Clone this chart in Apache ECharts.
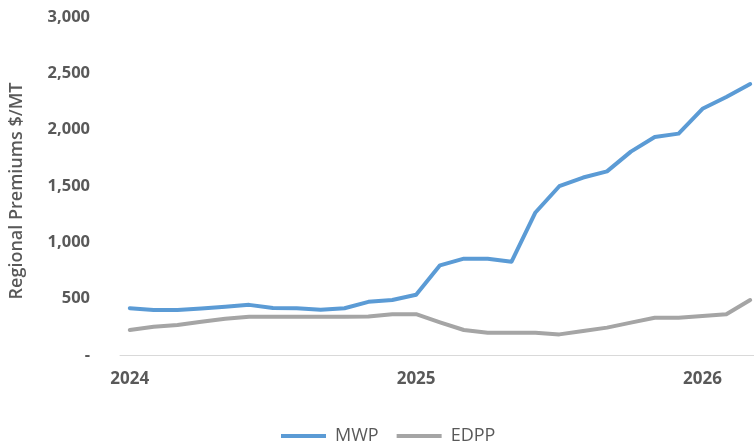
<!DOCTYPE html>
<html>
<head>
<meta charset="utf-8">
<script src="https://cdn.jsdelivr.net/npm/echarts@6/dist/echarts.min.js"></script>
<style>
  html, body { margin: 0; padding: 0; background: #ffffff; }
  #chart { width: 754px; height: 444px; }
</style>
</head>
<body>
<div id="chart"></div>
<script>
// Monthly regional aluminium premiums, Jan 2024 – Mar 2026 ($/MT)
const months = [
  '2024-01','2024-02','2024-03','2024-04','2024-05','2024-06','2024-07','2024-08','2024-09',
  '2024-10','2024-11','2024-12','2025-01','2025-02','2025-03','2025-04','2025-05','2025-06',
  '2025-07','2025-08','2025-09','2025-10','2025-11','2025-12','2026-01','2026-02','2026-03'
];
const mwp = [
  415, 400, 400, 412, 428, 445, 418, 415, 402,
  415, 472, 488, 535, 796, 855, 855, 828, 1265,
  1498, 1575, 1630, 1805, 1935, 1965, 2185, 2290, 2405
];
const edpp = [
  222, 250, 266, 296, 322, 340, 340, 340, 340,
  340, 342, 362, 362, 290, 222, 198, 198, 198,
  183, 213, 243, 287, 331, 331, 346, 361, 488
];
const yearTickIndex = [0, 12, 24];
const yearLabels = ['2024', '2025', '2026'];

const textColor = '#595959';
const fontFamily = '"Open Sans", "Liberation Sans", sans-serif';

const toPairs = arr => arr.map((v, i) => [i, v]);

const chart = echarts.init(document.getElementById('chart'), null, { renderer: 'canvas' });
chart.setOption({
  animation: false,
  backgroundColor: '#ffffff',
  grid: { left: 111, right: 0, top: 17, bottom: 89, containLabel: false },
  legend: {
    bottom: -6,
    left: 276,
    itemWidth: 45,
    itemHeight: 4,
    itemGap: 18,
    icon: 'rect',
    textStyle: { color: textColor, fontSize: 18, fontFamily: fontFamily, padding: [0, 0, 0, 4] },
    data: ['MWP', 'EDPP']
  },
  xAxis: {
    type: 'value',
    min: -0.41,
    max: 26.16,
    splitLine: { show: false },
    axisLine: { show: true, lineStyle: { color: '#d9d9d9', width: 1 } },
    axisTick: { show: false },
    axisLabel: {
      customValues: yearTickIndex,
      formatter: v => yearLabels[yearTickIndex.indexOf(Math.round(v))] || '',
      color: textColor,
      fontSize: 17,
      fontWeight: 'bold',
      fontFamily: fontFamily,
      margin: 16
    }
  },
  yAxis: {
    type: 'value',
    min: 0,
    max: 3000,
    interval: 500,
    name: 'Regional Premiums $/MT',
    nameLocation: 'middle',
    nameGap: 94,
    nameRotate: 90,
    nameTextStyle: {
      color: textColor, fontSize: 18, fontFamily: fontFamily, fontWeight: 600,
      padding: [0, 10, 0, 0]
    },
    axisLine: { show: false },
    axisTick: { show: false },
    splitLine: { show: false },
    axisLabel: {
      formatter: v => v === 0 ? '-' : v.toLocaleString('en-US'),
      color: textColor,
      fontSize: 16.5,
      fontWeight: 'bold',
      fontFamily: fontFamily,
      margin: 30
    }
  },
  series: [
    {
      name: 'MWP',
      type: 'line',
      data: toPairs(mwp),
      showSymbol: false,
      symbol: 'none',
      lineStyle: { color: '#5B9BD5', width: 4, cap: 'round', join: 'round' },
      itemStyle: { color: '#5B9BD5' }
    },
    {
      name: 'EDPP',
      type: 'line',
      data: toPairs(edpp),
      showSymbol: false,
      symbol: 'none',
      lineStyle: { color: '#A5A5A5', width: 4, cap: 'round', join: 'round' },
      itemStyle: { color: '#A5A5A5' }
    }
  ]
});
</script>
</body>
</html>
